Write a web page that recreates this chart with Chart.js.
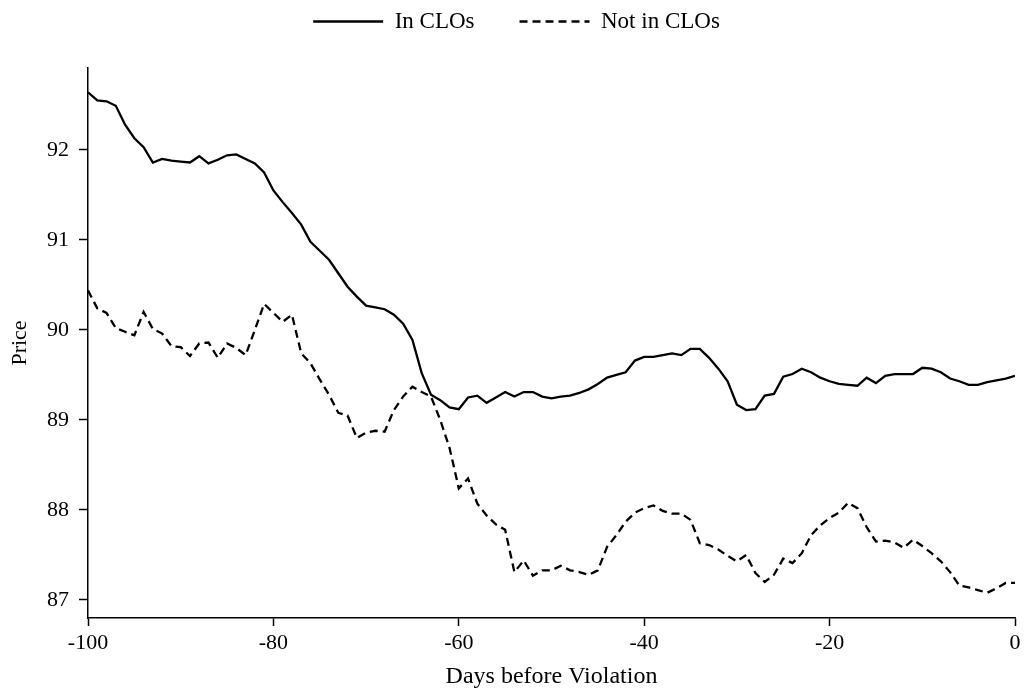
<!DOCTYPE html>
<html>
<head>
<meta charset="utf-8">
<script src="https://cdn.jsdelivr.net/npm/chart.js@4"></script>
<style>
  body { margin: 0; background: #fff; }
  #wrap { width: 1025px; height: 695px; }
</style>
</head>
<body>
<div id="wrap"><canvas id="chart"></canvas></div>
<script>
const days = [
  -100, -99, -98, -97, -96, -95, -94, -93, -92, -91, -90, -89, -88, -87, -86, -85, -84,
  -83, -82, -81, -80, -79, -78, -77, -76, -75, -74, -73, -72, -71, -70, -69, -68, -67,
  -66, -65, -64, -63, -62, -61, -60, -59, -58, -57, -56, -55, -54, -53, -52, -51, -50,
  -49, -48, -47, -46, -45, -44, -43, -42, -41, -40, -39, -38, -37, -36, -35, -34, -33,
  -32, -31, -30, -29, -28, -27, -26, -25, -24, -23, -22, -21, -20, -19, -18, -17, -16,
  -15, -14, -13, -12, -11, -10, -9, -8, -7, -6, -5, -4, -3, -2, -1, 0
];

const inClos = [
  92.64, 92.55, 92.54, 92.49, 92.28, 92.13, 92.03, 91.86, 91.90, 91.88, 91.87, 91.86, 91.93, 91.85, 91.89, 91.94, 91.95,
  91.90, 91.85, 91.75, 91.55, 91.42, 91.30, 91.17, 90.98, 90.88, 90.78, 90.63, 90.48, 90.37, 90.27, 90.25, 90.23, 90.17,
  90.07, 89.89, 89.52, 89.28, 89.22, 89.14, 89.12, 89.25, 89.27, 89.19, 89.25, 89.31, 89.26, 89.31, 89.31, 89.26, 89.24,
  89.26, 89.27, 89.30, 89.34, 89.40, 89.47, 89.50, 89.53, 89.66, 89.70, 89.70, 89.72, 89.74, 89.72, 89.79, 89.79, 89.69,
  89.57, 89.43, 89.17, 89.11, 89.12, 89.27, 89.29, 89.48, 89.51, 89.57, 89.53, 89.47, 89.43, 89.40, 89.39, 89.38, 89.47,
  89.41, 89.49, 89.51, 89.51, 89.51, 89.58, 89.57, 89.53, 89.46, 89.43, 89.39, 89.39, 89.42, 89.44, 89.46, 89.49
];

const notInClos = [
  90.44, 90.24, 90.19, 90.02, 89.98, 89.94, 90.20, 90.01, 89.96, 89.82, 89.81, 89.71, 89.85, 89.86, 89.69, 89.85, 89.80,
  89.72, 90.00, 90.29, 90.19, 90.09, 90.17, 89.74, 89.63, 89.45, 89.28, 89.08, 89.05, 88.80, 88.86, 88.88, 88.87, 89.11,
  89.26, 89.37, 89.31, 89.26, 89.00, 88.69, 88.24, 88.35, 88.07, 87.94, 87.84, 87.78, 87.31, 87.44, 87.27, 87.33, 87.33,
  87.38, 87.33, 87.31, 87.28, 87.33, 87.59, 87.72, 87.87, 87.97, 88.02, 88.05, 87.99, 87.96, 87.96, 87.89, 87.63, 87.61,
  87.56, 87.49, 87.43, 87.50, 87.30, 87.20, 87.28, 87.46, 87.41, 87.52, 87.72, 87.83, 87.91, 87.97, 88.08, 88.02, 87.81,
  87.65, 87.66, 87.64, 87.58, 87.67, 87.60, 87.52, 87.43, 87.31, 87.16, 87.14, 87.11, 87.08, 87.13, 87.19, 87.19
];

const yTicks = [87, 88, 89, 90, 91, 92];
const xTicks = [-100, -80, -60, -40, -20, 0];

const serif = "'Liberation Serif', 'Times New Roman', serif";
const legendPad = 45;

// fixed legend band height, text nudged up and right
const legendTweak = {
  id: 'legendTweak',
  beforeLayout(chart) {
    const lg = chart.legend;
    if (!lg || lg._tweaked) return;
    lg._tweaked = true;
    const fit = lg.fit;
    lg.fit = function () {
      fit.call(this);
      this.height = 68;
    };
    const draw = lg.draw;
    lg.draw = function () {
      const ctx = this.ctx;
      ctx.save();
      ctx.translate(9, 10 - legendPad);
      draw.call(this);
      ctx.restore();
    };
  }
};

new Chart(document.getElementById('chart'), {
  type: 'line',
  data: {
    datasets: [
      {
        label: 'In CLOs',
        data: days.map((d, i) => ({x: d, y: inClos[i]})),
        borderColor: '#000',
        backgroundColor: '#000',
        borderWidth: 2.3,
        pointRadius: 0,
        tension: 0
      },
      {
        label: 'Not in CLOs',
        data: days.map((d, i) => ({x: d, y: notInClos[i]})),
        borderColor: '#000',
        backgroundColor: '#000',
        borderWidth: 2.3,
        borderDash: [8, 5],
        pointRadius: 0,
        tension: 0
      }
    ]
  },
  options: {
    responsive: true,
    maintainAspectRatio: false,
    animation: false,
    layout: {
      padding: {top: 0, right: 10, bottom: 0, left: 0}
    },
    scales: {
      x: {
        type: 'linear',
        min: -100,
        max: 0,
        afterFit: s => { s.height = 77; },
        afterBuildTicks: s => { s.ticks = xTicks.map(v => ({value: v})); },
        border: {display: true, color: '#000', width: 1.5},
        grid: {display: true, drawOnChartArea: false, drawTicks: true, tickLength: 8, color: '#000', tickWidth: 1.5},
        ticks: {color: '#000', font: {family: serif, size: 22}, padding: 4, maxRotation: 0},
        title: {display: true, text: 'Days before Violation', color: '#000', font: {family: serif, size: 24}, padding: {top: 0, bottom: 4}}
      },
      y: {
        min: 86.8,
        max: 92.91,
        afterFit: s => { s.width = 88; },
        afterBuildTicks: s => { s.ticks = yTicks.map(v => ({value: v})); },
        border: {display: true, color: '#000', width: 1.5},
        grid: {display: true, drawOnChartArea: false, drawTicks: true, tickLength: 9, color: '#000', tickWidth: 1.5},
        ticks: {color: '#000', font: {family: serif, size: 22}, padding: 10},
        title: {display: true, text: 'Price', color: '#000', font: {family: serif, size: 22}, padding: {top: 7, bottom: 0}}
      }
    },
    plugins: {
      legend: {
        position: 'top',
        labels: {
          color: '#000',
          font: {family: serif, size: 23},
          usePointStyle: true,
          pointStyle: 'line',
          pointStyleWidth: 70,
          padding: legendPad,
          generateLabels(chart) {
            const items = Chart.defaults.plugins.legend.labels.generateLabels(chart);
            items.forEach(it => {
              it.lineDash = chart.data.datasets[it.datasetIndex].borderDash || [];
            });
            return items;
          }
        }
      },
      tooltip: {enabled: false}
    }
  },
  plugins: [legendTweak]
});
</script>
</body>
</html>
